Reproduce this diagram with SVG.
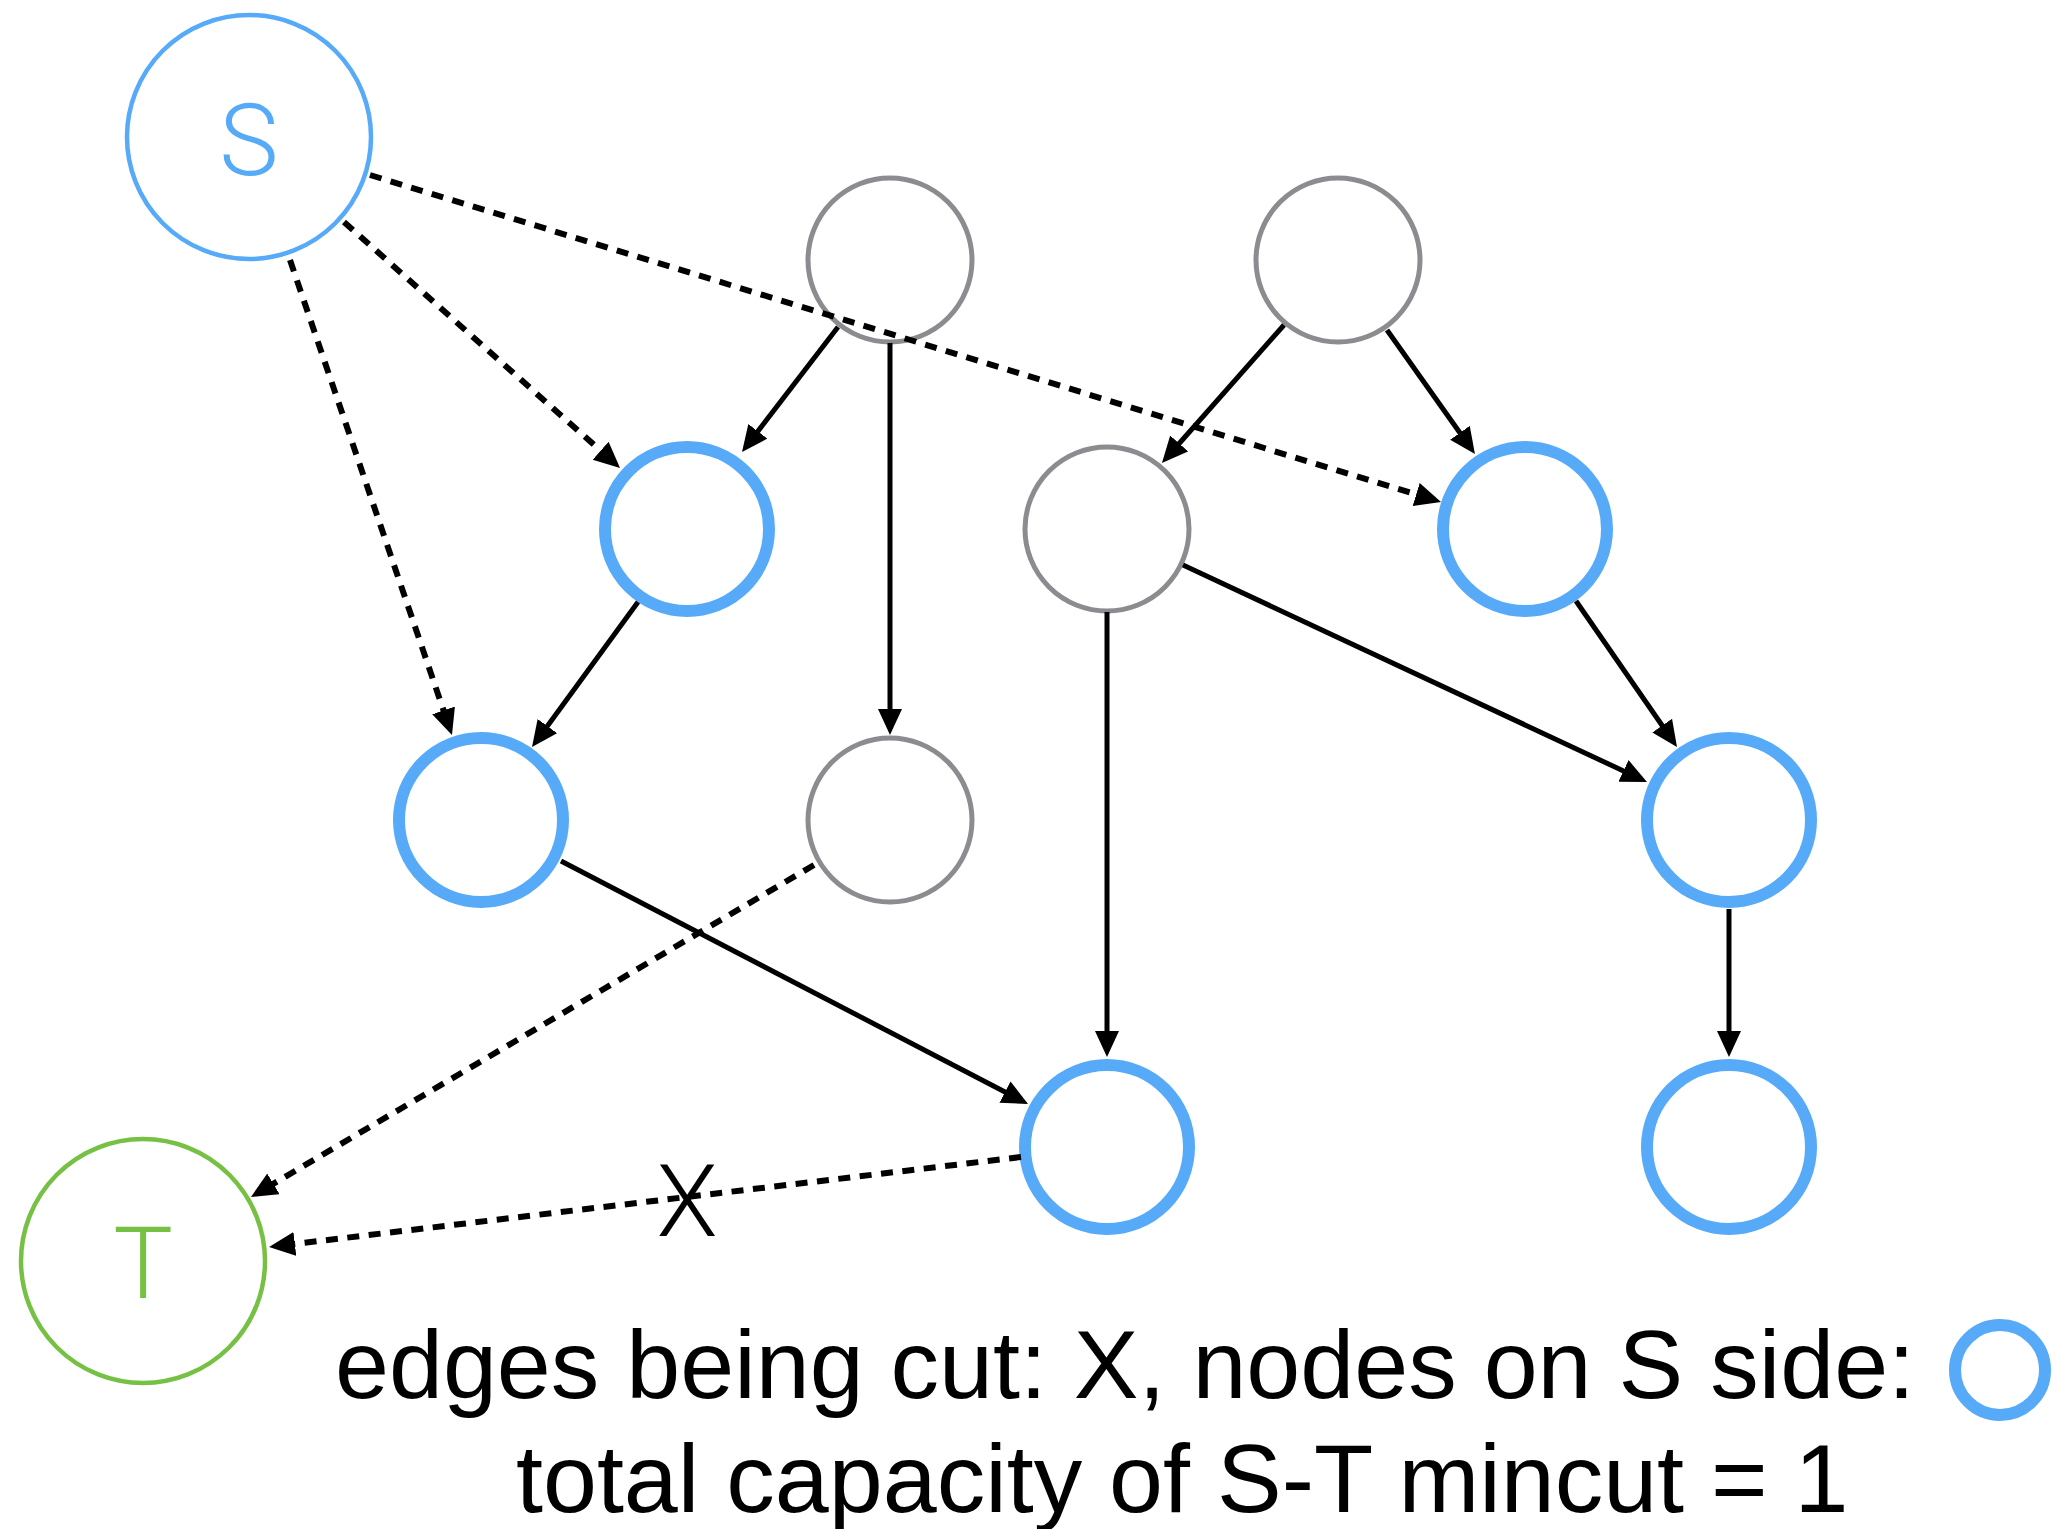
<svg xmlns="http://www.w3.org/2000/svg" width="2053" height="1529" viewBox="0 0 2053 1529">
<style>
.bg{fill:#ffffff}
.node{fill:#ffffff}
.src{stroke:#56aaf8;stroke-width:4.5}
.snk{stroke:#76c043;stroke-width:4.5}
.gray{stroke:#8b8c90;stroke-width:5}
.blue{stroke:#56aaf8;stroke-width:12}
.edge{fill:none;stroke:#000000;stroke-width:5}
.dash{fill:none;stroke:#000000;stroke-width:6;stroke-dasharray:12 9.5}
.lbl{font-family:Roboto,"Liberation Sans",sans-serif;font-weight:300;font-size:100px;text-anchor:middle}
.legend{font-family:"Liberation Sans",Arial,sans-serif;font-size:97px;fill:#000000}
</style>
<defs>
<marker id="ah" markerUnits="userSpaceOnUse" markerWidth="28" markerHeight="26" refX="6" refY="12" orient="auto">
<path d="M0,0 L26,12 L0,24 z" fill="#000000"/>
</marker>
</defs>
<rect class="bg" x="0" y="0" width="2053" height="1529"/>
<g id="node-S"><circle class="node src" cx="249" cy="137" r="122"/><text class="lbl" x="249" y="175" fill="#56aaf8">S</text></g>
<g id="node-T"><circle class="node snk" cx="143" cy="1261" r="122"/><text class="lbl" x="143" y="1298" fill="#76c043">T</text></g>
<g id="node-g1"><circle class="node gray" cx="890" cy="260" r="82"/></g>
<g id="node-g2"><circle class="node gray" cx="1338" cy="260" r="82"/></g>
<g id="node-a"><circle class="node blue" cx="687" cy="529" r="82"/></g>
<g id="node-m"><circle class="node gray" cx="1107" cy="529" r="82"/></g>
<g id="node-b"><circle class="node blue" cx="1525" cy="529" r="82"/></g>
<g id="node-c"><circle class="node blue" cx="481" cy="820" r="82"/></g>
<g id="node-c2"><circle class="node gray" cx="890" cy="820" r="82"/></g>
<g id="node-d"><circle class="node blue" cx="1729" cy="820" r="82"/></g>
<g id="node-e"><circle class="node blue" cx="1107" cy="1147" r="82"/></g>
<g id="node-f"><circle class="node blue" cx="1729" cy="1147" r="82"/></g>
<g id="connectors">
<path class="dash" d="M370,175 L1421.9,496.2" marker-end="url(#ah)"/>
<path class="dash" d="M344,222 L605.1,454.7" marker-end="url(#ah)"/>
<path class="dash" d="M290,260 L445.5,716.1" marker-end="url(#ah)"/>
<path class="edge" d="M838,327 L754.2,436.1" marker-end="url(#ah)"/>
<path class="edge" d="M890,343 L890,715" marker-end="url(#ah)"/>
<path class="edge" d="M1284,325 L1175.2,448" marker-end="url(#ah)"/>
<path class="edge" d="M1387,330 L1463.4,437.7" marker-end="url(#ah)"/>
<path class="edge" d="M638,602 L543.8,730.9" marker-end="url(#ah)"/>
<path class="edge" d="M1107,612 L1107,1037" marker-end="url(#ah)"/>
<path class="edge" d="M1183,565 L1628.9,773.5" marker-end="url(#ah)"/>
<path class="edge" d="M1576,601 L1665.6,730.5" marker-end="url(#ah)"/>
<path class="edge" d="M1729,909 L1729,1037" marker-end="url(#ah)"/>
<path class="edge" d="M561,861 L1010.3,1094.8" marker-end="url(#ah)"/>
<path class="dash" d="M814,865 L268.2,1186.8" marker-end="url(#ah)"/>
<path class="dash" d="M1021,1157 L288.9,1244.6" marker-end="url(#ah)"/>
<text class="lbl" x="687" y="1236" font-size="96" fill="#000000">X</text>
</g>
<g id="legend">
<text class="legend" x="335" y="1398">edges being cut: X, nodes on S side:</text>
<circle cx="2000" cy="1370" r="45" fill="none" stroke="#56aaf8" stroke-width="12"/>
<text class="legend" x="516" y="1512">total capacity of S-T mincut = 1</text>
</g>
</svg>
